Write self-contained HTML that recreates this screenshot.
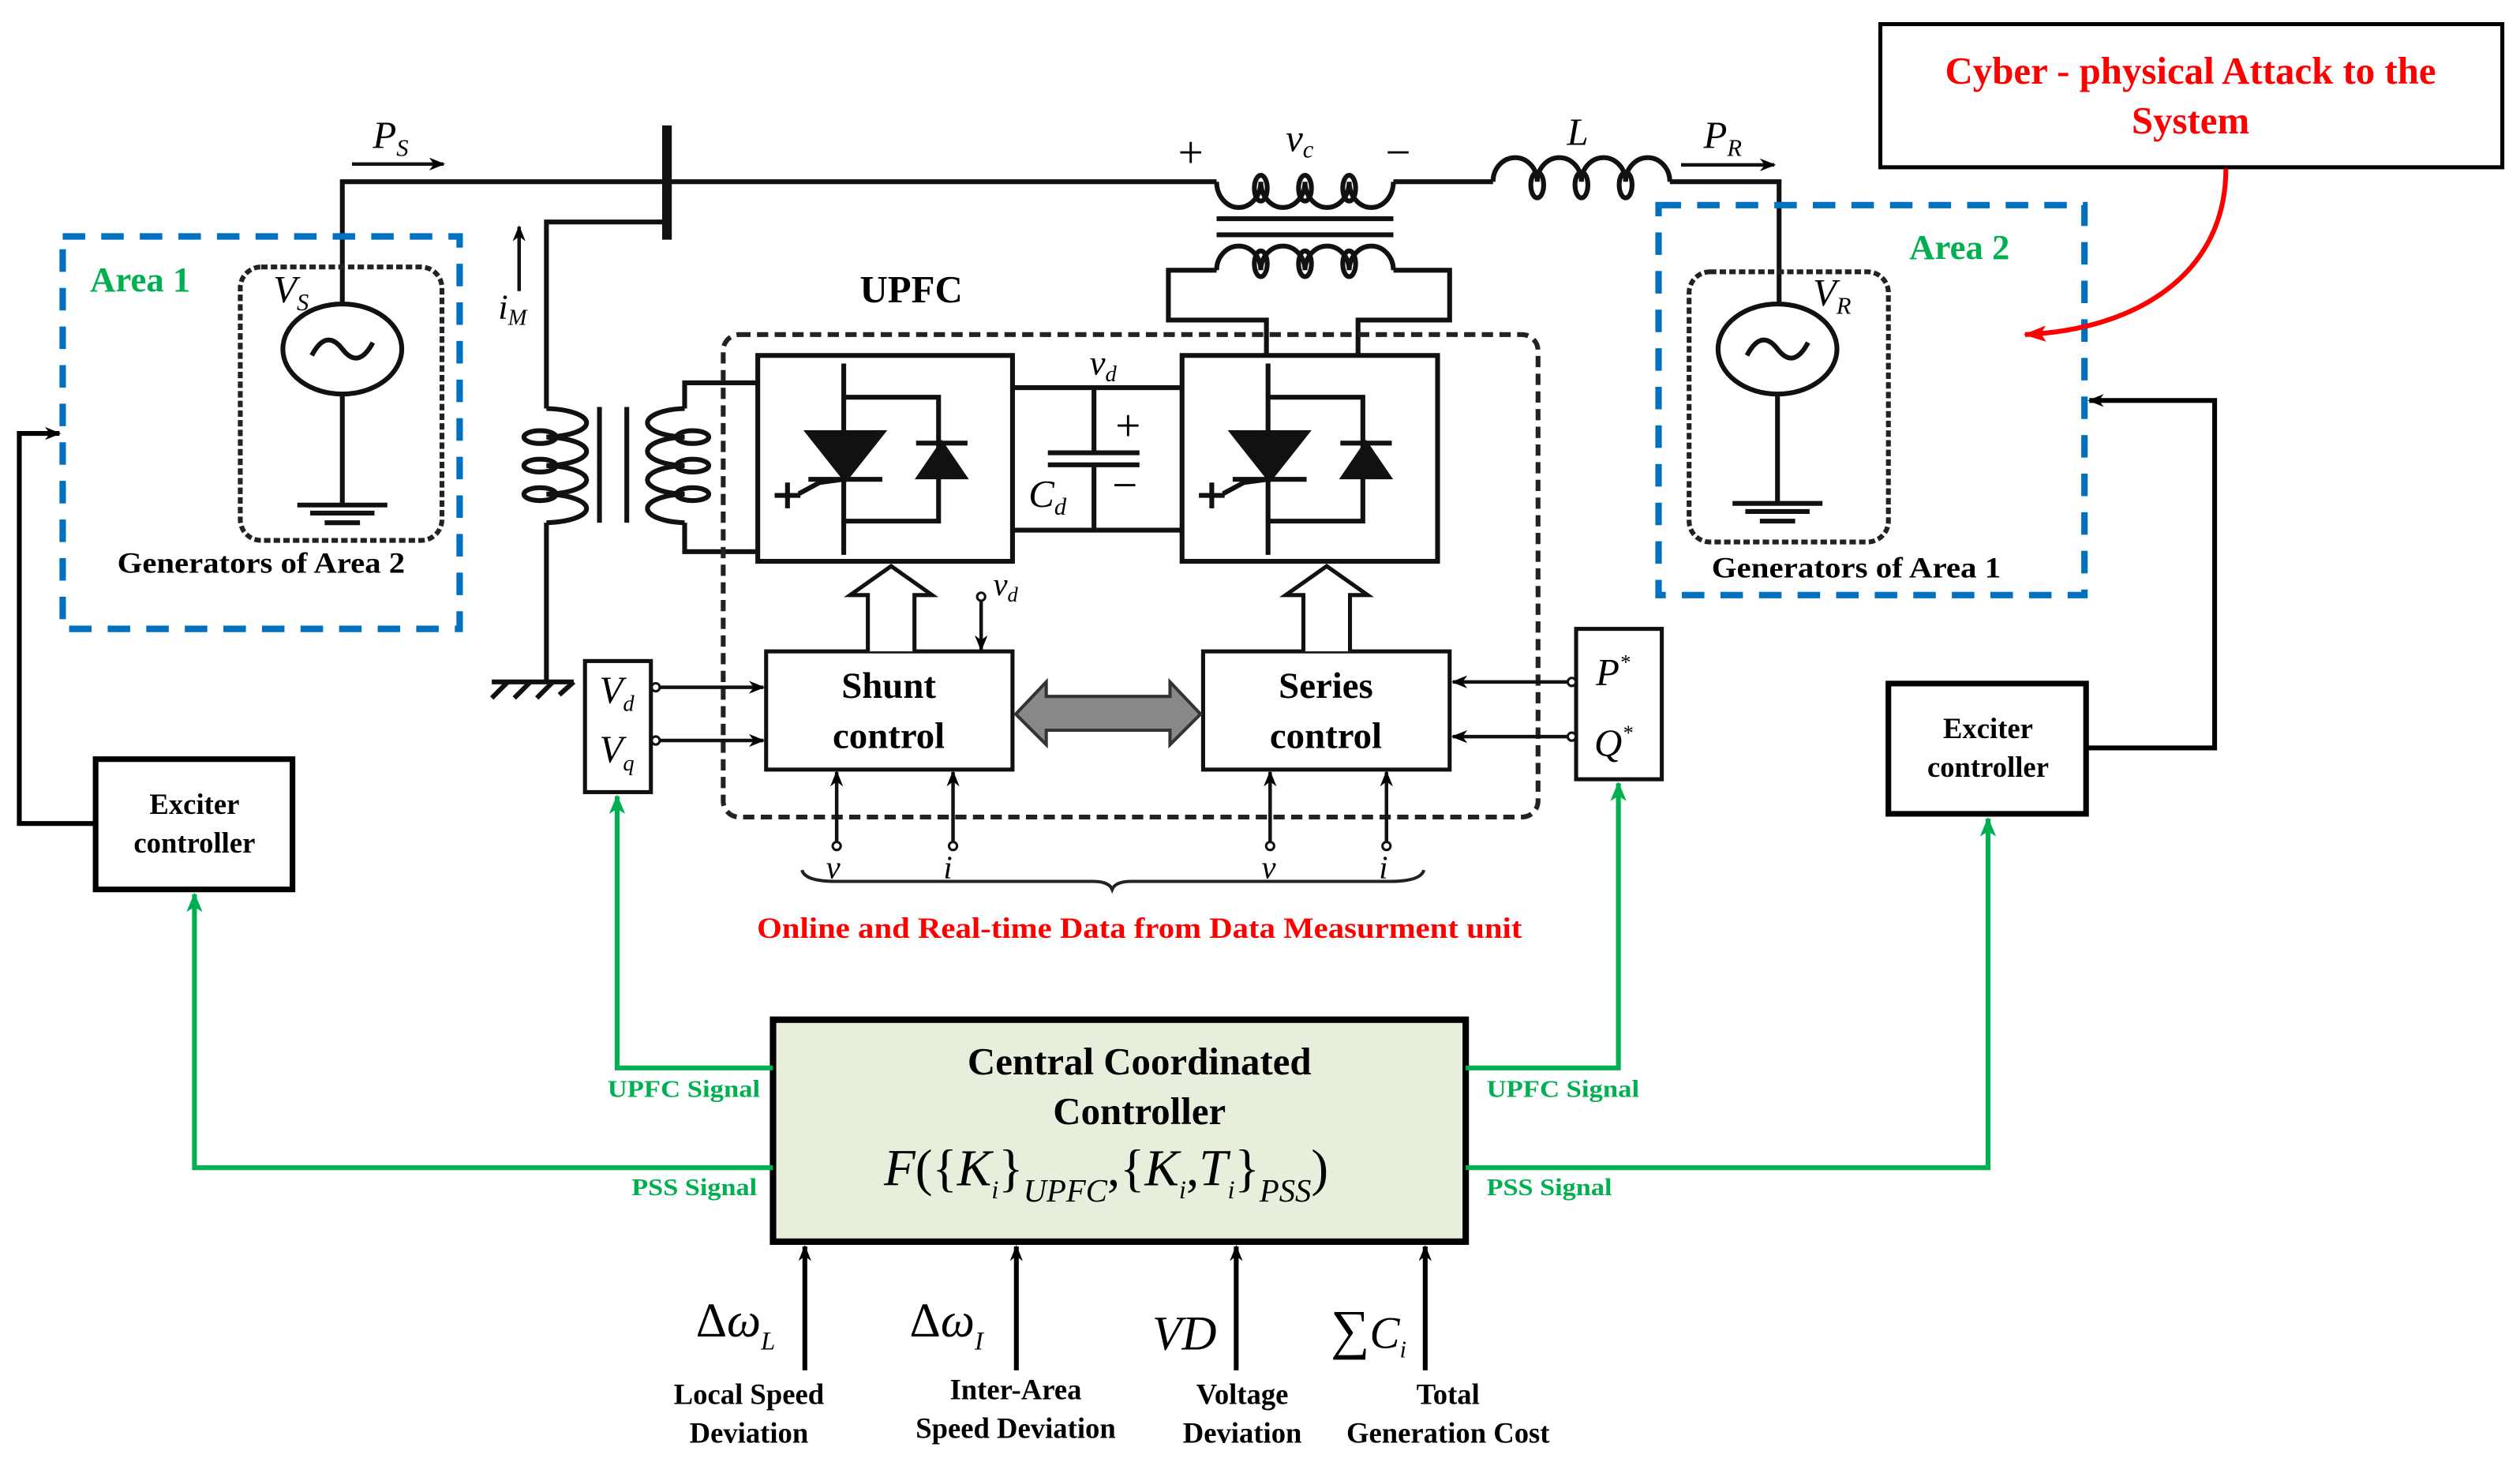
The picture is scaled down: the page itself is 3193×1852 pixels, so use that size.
<!DOCTYPE html>
<html><head><meta charset="utf-8"><style>
html,body{margin:0;padding:0;background:#fff;}
svg{display:block;}
text{font-family:"Liberation Serif",serif;}
.b{font-weight:bold;}
.m{font-style:italic;}
</style></head><body>
<svg width="3193" height="1852" viewBox="0 0 1568 909" preserveAspectRatio="none" xmlns="http://www.w3.org/2000/svg">
<defs>
<marker id="ak" markerWidth="10" markerHeight="10" refX="9" refY="5" orient="auto" markerUnits="userSpaceOnUse"><path d="M0,1 L10,5 L0,9 L3,5 z" fill="#000"/></marker>
<marker id="ag" markerWidth="12" markerHeight="12" refX="11" refY="6" orient="auto" markerUnits="userSpaceOnUse"><path d="M0,1 L12,6 L0,11 L3,6 z" fill="#00b050"/></marker>
<marker id="ar" markerWidth="14" markerHeight="12" refX="13" refY="6" orient="auto" markerUnits="userSpaceOnUse"><path d="M0,1 L14,6 L0,11 L3,6 z" fill="#ff0000"/></marker>
</defs>
<g fill="none" stroke="#111" stroke-width="3">
<path d="M213,242 L213,113 L757,113"/>
<path d="M867,113 L929,113"/>
<path d="M1039,113 L1107,113 L1107,194"/>
<line x1="415" y1="78" x2="415" y2="149" stroke-width="6"/>
<path d="M757,113 A13.75,16 0 0 0 784.5,113 A13.75,16 0 0 0 812,113 A13.75,16 0 0 0 839.5,113 A13.75,16 0 0 0 867,113"/>
<ellipse cx="784.5" cy="117" rx="4" ry="8"/><ellipse cx="812" cy="117" rx="4" ry="8"/><ellipse cx="839.5" cy="117" rx="4" ry="8"/>
<line x1="757" y1="136" x2="867" y2="136"/><line x1="757" y1="146" x2="867" y2="146"/>
<path d="M757,168 A13.75,15 0 0 1 784.5,168 A13.75,15 0 0 1 812,168 A13.75,15 0 0 1 839.5,168 A13.75,15 0 0 1 867,168"/>
<ellipse cx="784.5" cy="164" rx="4" ry="8"/><ellipse cx="812" cy="164" rx="4" ry="8"/><ellipse cx="839.5" cy="164" rx="4" ry="8"/>
<path d="M757,168 L727,168 L727,199 L788,199 L788,221"/>
<path d="M867,168 L902,168 L902,199 L845,199 L845,221"/>
<path d="M929,113 A13.75,15 0 0 1 956.5,113 A13.75,15 0 0 1 984,113 A13.75,15 0 0 1 1011.5,113 A13.75,15 0 0 1 1039,113"/>
<ellipse cx="956.5" cy="115" rx="4" ry="8"/><ellipse cx="984" cy="115" rx="4" ry="8"/><ellipse cx="1011.5" cy="115" rx="4" ry="8"/>
<path d="M415,138 L340,138 L340,254"/>
<path d="M340,254 A27,8.9 0 0 1 340,271.75 A27,8.9 0 0 1 340,289.5 A27,8.9 0 0 1 340,307.25 A27,8.9 0 0 1 340,325"/>
<ellipse cx="336" cy="271.75" rx="10" ry="4"/><ellipse cx="336" cy="289.5" rx="10" ry="4"/><ellipse cx="336" cy="307.25" rx="10" ry="4"/>
<path d="M340,325 L340,424"/>
<line x1="306" y1="424" x2="357" y2="424"/>
<path d="M316,424 L306,434 M330,424 L320,434 M344,424 L334,434 M357,424 L348,432"/>
<line x1="373" y1="253" x2="373" y2="325"/><line x1="390" y1="253" x2="390" y2="325"/>
<path d="M426,254 A25,8.9 0 0 0 426,271.75 A25,8.9 0 0 0 426,289.5 A25,8.9 0 0 0 426,307.25 A25,8.9 0 0 0 426,325"/>
<ellipse cx="431" cy="271.75" rx="10" ry="4"/><ellipse cx="431" cy="289.5" rx="10" ry="4"/><ellipse cx="431" cy="307.25" rx="10" ry="4"/>
<path d="M472,238 L426,238 L426,254 M426,325 L426,343 L472,343"/>
<rect x="471.5" y="221" width="158.5" height="128"/>
<rect x="735.5" y="221" width="159" height="128"/>
<path d="M630,241 L735.5,241 M630,329.6 L735.5,329.6 M680.7,241 L680.7,281.5 M680.7,289 L680.7,329.6 M652,281.5 L709,281.5 M652,289 L709,289"/>
</g>
<g id="conv" fill="none" stroke="#111" stroke-width="3">
<line x1="525" y1="226" x2="525" y2="345"/>
<path d="M525,247 L584,247 L584,324 L525,324"/>
<path d="M503,269 L549,269 L526,298 z" fill="#111"/>
<line x1="503" y1="298" x2="549" y2="298"/>
<path d="M570,275.5 L602,275.5 M572,296.5 L600,296.5 L586,276 z" fill="#111"/>
<path d="M497,307 L510,300 L525,298" />
<path d="M482,308 L498,308 M490,300 L490,316"/>
</g>
<use href="#conv" x="264" y="0"/>
<rect x="450" y="208" width="507" height="300" rx="10" fill="none" stroke="#222" stroke-width="3" stroke-dasharray="7,4"/>
<g fill="#fff" stroke="#111" stroke-width="2.5">
<rect x="476.7" y="405" width="153.3" height="73.5"/>
<rect x="748.6" y="405" width="153.4" height="73.5"/>
<rect x="364" y="411" width="41" height="81.5"/>
<rect x="980.7" y="391" width="53.3" height="93.5"/>
</g>
<g fill="#fff" stroke="#111" stroke-width="2.5">
<path d="M540,405 L540,370 L529,370 L554.5,352 L580,370 L569,370 L569,405"/>
<path d="M811,405 L811,370 L800,370 L825.5,352 L851,370 L840,370 L840,405"/>
</g>
<path d="M632,444 L651,424 L651,433 L728,433 L728,424 L747,444 L728,463 L728,454 L651,454 L651,463 z" fill="#888" stroke="#333" stroke-width="2"/>
<g stroke="#111" stroke-width="2.2" fill="none">
<line x1="610.5" y1="374" x2="610.5" y2="404" marker-end="url(#ak)"/>
<line x1="410" y1="427.3" x2="475" y2="427.3" marker-end="url(#ak)"/>
<line x1="410" y1="460.4" x2="475" y2="460.4" marker-end="url(#ak)"/>
<line x1="976" y1="424" x2="904" y2="424" marker-end="url(#ak)"/>
<line x1="976" y1="458" x2="904" y2="458" marker-end="url(#ak)"/>
<line x1="520.6" y1="524" x2="520.6" y2="480" marker-end="url(#ak)"/>
<line x1="593" y1="524" x2="593" y2="480" marker-end="url(#ak)"/>
<line x1="790.3" y1="524" x2="790.3" y2="480" marker-end="url(#ak)"/>
<line x1="862.7" y1="524" x2="862.7" y2="480" marker-end="url(#ak)"/>
<line x1="323" y1="181" x2="323" y2="141" marker-end="url(#ak)"/>
<line x1="219" y1="102" x2="276" y2="102" marker-end="url(#ak)"/>
<line x1="1046" y1="102.5" x2="1104" y2="102.5" marker-end="url(#ak)"/>
</g>
<g fill="#fff" stroke="#111" stroke-width="1.5">
<circle cx="610.5" cy="371" r="2.5"/><circle cx="408" cy="427.3" r="2.5"/><circle cx="408" cy="460.4" r="2.5"/>
<circle cx="978" cy="424" r="2.5"/><circle cx="978" cy="458" r="2.5"/>
<circle cx="520.6" cy="526" r="2.5"/><circle cx="593" cy="526" r="2.5"/><circle cx="790.3" cy="526" r="2.5"/><circle cx="862.7" cy="526" r="2.5"/>
</g>
<path d="M499,541 Q501,548 520,548 L680,548 Q690,548 692,553 Q694,548 704,548 L865,548 Q884,548 886,541" fill="none" stroke="#222" stroke-width="2"/>
<g fill="none" stroke="#111" stroke-width="3">
<rect x="149.5" y="166" width="125.5" height="170" rx="13" stroke-dasharray="4,2" stroke="#222"/>
<ellipse cx="213" cy="217" rx="37" ry="28" fill="#fff"/>
<path d="M194,221 Q203,204 213,217 Q223,230 232,213"/>
<path d="M213,245 L213,314 M185,314 L241,314 M193,319 L233,319 M202,325 L224,325"/>
<rect x="1051" y="169" width="124" height="168" rx="13" stroke-dasharray="4,2" stroke="#222"/>
<ellipse cx="1106" cy="217" rx="37" ry="28" fill="#fff"/>
<path d="M1087,221 Q1096,204 1106,217 Q1116,230 1125,213"/>
<path d="M1106,245 L1106,313 M1078,313 L1134,313 M1086,318 L1126,318 M1095,324 L1117,324"/>
</g>
<rect x="39" y="147" width="247" height="244" fill="none" stroke="#0070c0" stroke-width="4" stroke-dasharray="14,10"/>
<rect x="1032" y="127.5" width="265" height="242.5" fill="none" stroke="#0070c0" stroke-width="4" stroke-dasharray="14,10"/>
<rect x="59.5" y="472" width="122.5" height="81" fill="#fff" stroke="#000" stroke-width="3.5"/>
<rect x="1175" y="425" width="123" height="81" fill="#fff" stroke="#000" stroke-width="3.5"/>
<g stroke="#000" stroke-width="3" fill="none">
<path d="M59.5,512 L12,512 L12,269.5 L37,269.5" marker-end="url(#ak)"/>
<path d="M1298,465 L1378,465 L1378,249 L1300,249" marker-end="url(#ak)"/>
</g>
<rect x="481" y="634" width="431" height="138" fill="#e8eedc" stroke="#000" stroke-width="4"/>
<g stroke="#00b050" stroke-width="3" fill="none">
<path d="M481,664 L384,664 L384,495" marker-end="url(#ag)"/>
<path d="M912,664 L1007,664 L1007,487" marker-end="url(#ag)"/>
<path d="M481,726 L121,726 L121,556" marker-end="url(#ag)"/>
<path d="M912,726 L1237,726 L1237,509" marker-end="url(#ag)"/>
</g>
<g stroke="#000" stroke-width="3">
<line x1="500.8" y1="852" x2="500.8" y2="775" marker-end="url(#ak)"/>
<line x1="632.4" y1="852" x2="632.4" y2="775" marker-end="url(#ak)"/>
<line x1="769.2" y1="852" x2="769.2" y2="775" marker-end="url(#ak)"/>
<line x1="886.8" y1="852" x2="886.8" y2="775" marker-end="url(#ak)"/>
</g>
<rect x="1170" y="15" width="387" height="89" fill="#fff" stroke="#000" stroke-width="2.5"/>
<path d="M1385,105 C1385,170 1330,205 1260,208" fill="none" stroke="#ff0000" stroke-width="3" marker-end="url(#ar)"/>
<g fill="#000">
<text x="232" y="92" font-size="24" class="m">P<tspan font-size="15" dy="5">S</tspan></text>
<text x="1060" y="92" font-size="24" class="m">P<tspan font-size="15" dy="5">R</tspan></text>
<text x="733" y="104" font-size="28">+</text>
<text x="862" y="104" font-size="28">−</text>
<text x="800" y="94" font-size="24" class="m">v<tspan font-size="15" dy="4">c</tspan></text>
<text x="975" y="90" font-size="24" class="m">L</text>
<text x="170" y="188" font-size="24" class="m">V<tspan font-size="15" dy="5">S</tspan></text>
<text x="1128" y="190" font-size="24" class="m">V<tspan font-size="15" dy="5">R</tspan></text>
<text x="310" y="198" font-size="22" class="m">i<tspan font-size="14" dy="4">M</tspan></text>
<text x="567" y="188" font-size="24" class="b" text-anchor="middle">UPFC</text>
<text x="678" y="233" font-size="22" class="m">v<tspan font-size="14" dy="4">d</tspan></text>
<text x="618" y="370" font-size="20" class="m">v<tspan font-size="13" dy="4">d</tspan></text>
<text x="640" y="315" font-size="24" class="m">C<tspan font-size="15" dy="5">d</tspan></text>
<text x="694" y="274" font-size="28">+</text>
<text x="692" y="311" font-size="28">−</text>
<text x="553" y="434" font-size="23" class="b" text-anchor="middle">Shunt</text>
<text x="553" y="465" font-size="23" class="b" text-anchor="middle">control</text>
<text x="825" y="434" font-size="23" class="b" text-anchor="middle">Series</text>
<text x="825" y="465" font-size="23" class="b" text-anchor="middle">control</text>
<text x="373" y="437" font-size="24" class="m">V<tspan font-size="14" dy="5">d</tspan></text>
<text x="373" y="474" font-size="24" class="m">V<tspan font-size="14" dy="5">q</tspan></text>
<text x="993" y="426" font-size="24" class="m">P<tspan font-size="13" dy="-10">*</tspan></text>
<text x="992" y="470" font-size="24" class="m">Q<tspan font-size="13" dy="-10">*</tspan></text>
<text x="514" y="546" font-size="20" class="m">v</text>
<text x="587" y="546" font-size="20" class="m">i</text>
<text x="785" y="546" font-size="20" class="m">v</text>
<text x="858" y="546" font-size="20" class="m">i</text>
<text x="73" y="356" font-size="18" class="b" textLength="179" lengthAdjust="spacingAndGlyphs">Generators of Area 2</text>
<text x="1065" y="359" font-size="18" class="b" textLength="180" lengthAdjust="spacingAndGlyphs">Generators of Area 1</text>
<text x="121" y="506" font-size="18" class="b" text-anchor="middle">Exciter</text>
<text x="121" y="530" font-size="18" class="b" text-anchor="middle">controller</text>
<text x="1237" y="459" font-size="18" class="b" text-anchor="middle">Exciter</text>
<text x="1237" y="483" font-size="18" class="b" text-anchor="middle">controller</text>
<text x="709" y="668" font-size="24" class="b" text-anchor="middle">Central Coordinated</text>
<text x="709" y="699" font-size="24" class="b" text-anchor="middle">Controller</text>
<text x="550" y="737" font-size="32" class="m">F<tspan font-style="normal">({</tspan>K<tspan font-size="16" dy="8">i</tspan><tspan font-style="normal" dy="-8">}</tspan><tspan font-size="20" dy="10">UPFC</tspan><tspan font-style="normal" dy="-10">,{</tspan>K<tspan font-size="16" dy="8">i</tspan><tspan font-style="normal" dy="-8">,</tspan>T<tspan font-size="16" dy="8">i</tspan><tspan font-style="normal" dy="-8">}</tspan><tspan font-size="20" dy="10">PSS</tspan><tspan font-style="normal" dy="-10">)</tspan></text>
<text x="433" y="831" font-size="30" class="m"><tspan font-style="normal">Δ</tspan>ω<tspan font-size="16" dy="8">L</tspan></text>
<text x="566" y="831" font-size="30" class="m"><tspan font-style="normal">Δ</tspan>ω<tspan font-size="16" dy="8">I</tspan></text>
<text x="717" y="839" font-size="30" class="m">VD</text>
<text x="828" y="838" font-size="34"><tspan>∑</tspan><tspan class="m" font-size="28">C</tspan><tspan class="m" font-size="15" dy="6">i</tspan></text>
<text x="466" y="873" font-size="18" class="b" text-anchor="middle">Local Speed</text>
<text x="466" y="897" font-size="18" class="b" text-anchor="middle">Deviation</text>
<text x="632" y="870" font-size="18" class="b" text-anchor="middle">Inter-Area</text>
<text x="632" y="894" font-size="18" class="b" text-anchor="middle">Speed Deviation</text>
<text x="773" y="873" font-size="18" class="b" text-anchor="middle">Voltage</text>
<text x="773" y="897" font-size="18" class="b" text-anchor="middle">Deviation</text>
<text x="901" y="873" font-size="18" class="b" text-anchor="middle">Total</text>
<text x="901" y="897" font-size="18" class="b" text-anchor="middle">Generation Cost</text>
</g>
<g fill="#00b050">
<text x="56" y="181" font-size="22" font-weight="bold">Area 1</text>
<text x="1188" y="161" font-size="22" font-weight="bold">Area 2</text>
<text x="378" y="682" font-size="15" font-weight="bold" textLength="95" lengthAdjust="spacingAndGlyphs">UPFC Signal</text>
<text x="393" y="743" font-size="15" font-weight="bold" textLength="78" lengthAdjust="spacingAndGlyphs">PSS Signal</text>
<text x="925" y="682" font-size="15" font-weight="bold" textLength="95" lengthAdjust="spacingAndGlyphs">UPFC Signal</text>
<text x="925" y="743" font-size="15" font-weight="bold" textLength="78" lengthAdjust="spacingAndGlyphs">PSS Signal</text>
</g>
<text x="471" y="583" font-size="18" fill="#ff0000" font-weight="bold" textLength="476" lengthAdjust="spacingAndGlyphs">Online and Real-time Data from Data Measurment unit</text>
<text x="1363" y="52" font-size="24" fill="#ff0000" font-weight="bold" text-anchor="middle">Cyber - physical Attack to the</text>
<text x="1363" y="83" font-size="24" fill="#ff0000" font-weight="bold" text-anchor="middle">System</text>
</svg>
</body></html>
